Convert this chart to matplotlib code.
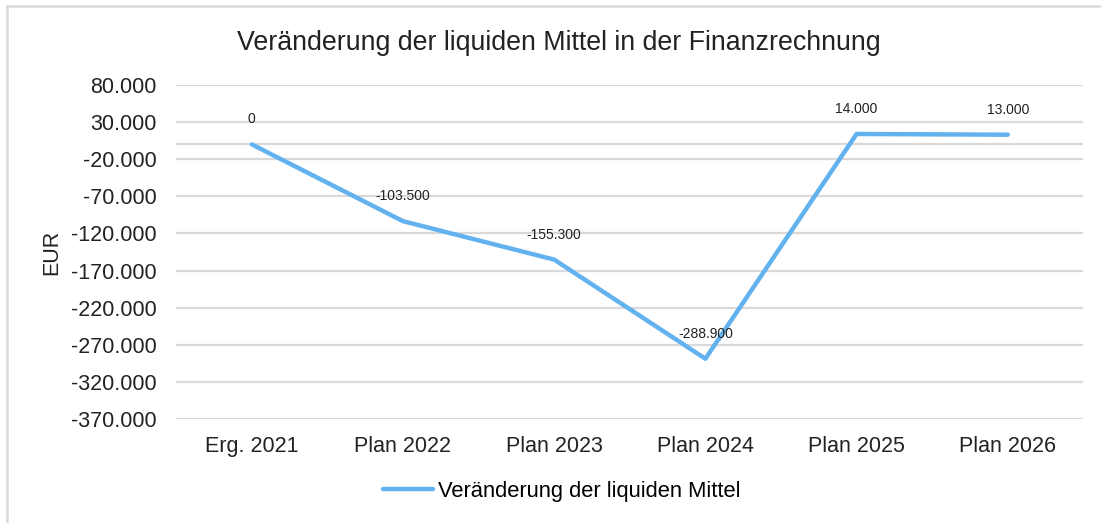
import matplotlib.pyplot as plt
from matplotlib.lines import Line2D
from matplotlib.ticker import FuncFormatter

plt.rcParams['font.family'] = ['Liberation Sans', 'DejaVu Sans']

# Daten
kategorien = ['Erg. 2021', 'Plan 2022', 'Plan 2023', 'Plan 2024', 'Plan 2025', 'Plan 2026']
werte = [0, -103500, -155300, -288900, 14000, 13000]
y_ticks = [-370000, -320000, -270000, -220000, -170000, -120000, -70000, -20000, 30000, 80000]

titel = 'Veränderung der liquiden Mittel in der Finanzrechnung'
reihe = 'Veränderung der liquiden Mittel'


def de_format(v, pos=None):
    # Tausenderpunkt wie in Excel (deutsch)
    return f"{v:,.0f}".replace(",", ".")


fig = plt.figure(figsize=(11.01, 5.23), dpi=100)
ax = fig.add_axes([0.16, 0.199, 0.824, 0.6385])

grau = '#D9D9D9'
blau = '#63B2F0'

x = list(range(len(kategorien)))
line, = ax.plot(x, werte, color=blau, linewidth=3.2, solid_capstyle='round', label=reihe, zorder=3)

for xi, v in zip(x, werte):
    ax.annotate(de_format(v), (xi, v), xytext=(0, 18), textcoords='offset points',
                ha='center', va='center', fontsize=10, color='#222222')

ax.set_xlim(-0.5, len(kategorien) - 0.5)
ax.set_ylim(-370000, 80000)
ax.set_yticks(y_ticks)
ax.yaxis.set_major_formatter(FuncFormatter(de_format))
ax.set_xticks(x)
ax.set_xticklabels(kategorien)
ax.tick_params(axis='both', length=0, labelsize=15.5, colors='#222222')
ax.tick_params(axis='x', pad=12)
ax.tick_params(axis='y', pad=14)

ax.grid(axis='y', color=grau, linewidth=1.6)
ax.axhline(0, color=grau, linewidth=1.6, zorder=1)
ax.set_axisbelow(True)
for s in ax.spines.values():
    s.set_visible(False)

ax.set_ylabel('EUR', fontsize=15.5, color='#222222', labelpad=6)
fig.text(0.508, 0.918, titel, ha='center', va='center', fontsize=19.3, color='#222222')

fig.legend(handles=[line], loc='center', bbox_to_anchor=(0.51, 0.061), frameon=False,
           fontsize=15.8, handlelength=2.3, handletextpad=0.2)

# Rahmen des Diagramms (oben und links)
fig.lines.append(Line2D([0.0064, 1.0], [0.9885, 0.9885], transform=fig.transFigure,
                        color=grau, linewidth=1.8))
fig.lines.append(Line2D([0.0064, 0.0064], [0.0, 0.9885], transform=fig.transFigure,
                        color=grau, linewidth=1.8))

fig.savefig('out.png', dpi=100)
